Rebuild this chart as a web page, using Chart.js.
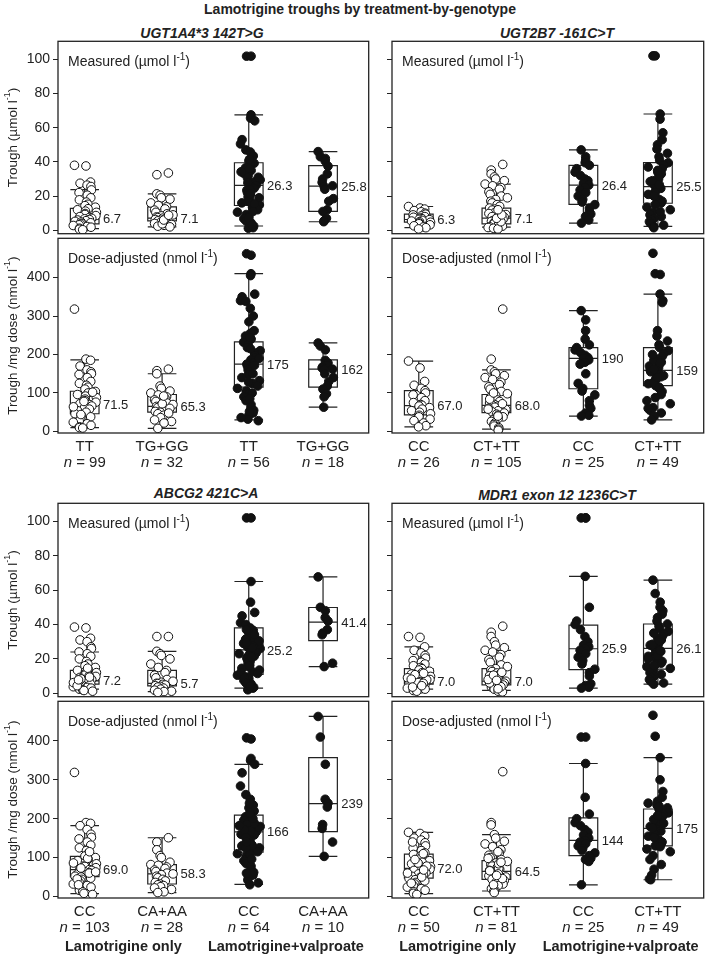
<!DOCTYPE html>
<html>
<head>
<meta charset="utf-8">
<script src="https://cdn.jsdelivr.net/npm/chart.js@4.4.1/dist/chart.umd.min.js"></script>
<style>
  body { margin: 0; background: #fff; width: 709px; height: 956px; position: relative; overflow: hidden;
         font-family: "Liberation Sans", Arial, sans-serif; color: #222; }
  canvas { position: absolute; }
  .t { position: absolute; white-space: nowrap; transform: translate(-50%, -50%); }
</style>
</head>
<body>
<div class="t" style="left:360px;top:9px;font-weight:bold;font-size:14px">Lamotrigine troughs by treatment-by-genotype</div>
<script>
const FONT = '"Liberation Sans", Arial, sans-serif';

const genes = ['UGT1A4*3 142T>G', 'UGT2B7 -161C>T', 'ABCG2 421C>A', 'MDR1 exon 12 1236C>T'];
const genotypes = [
  ['TT', 'TG+GG', 'TT', 'TG+GG'],
  ['CC', 'CT+TT', 'CC', 'CT+TT'],
  ['CC', 'CA+AA', 'CC', 'CA+AA'],
  ['CC', 'CT+TT', 'CC', 'CT+TT']
];
const groupN = [[99, 32, 56, 18], [26, 105, 25, 49], [103, 28, 64, 10], [50, 81, 25, 49]];
const treatments = ['Lamotrigine only', 'Lamotrigine+valproate'];
const measuredTicks = [0, 20, 40, 60, 80, 100];
const doseTicks = [0, 100, 200, 300, 400];

// box stats: [lower whisker, q1, median, q3, upper whisker]
const ugt1a4MeasBox = [[1, 3.8, 6.7, 12.8, 23.8], [2, 5.5, 7.1, 13.7, 21.3], [2.5, 14.5, 26.3, 39.5, 67.5], [5, 11, 25.8, 37.8, 46]];
const ugt1a4DoseBox = [[10, 46, 71.5, 104.5, 186], [8, 50, 65.3, 96, 150], [30, 115, 175, 233, 410], [63, 115, 162, 186, 230]];
const ugt2b7MeasBox = [[1.5, 4.8, 6.3, 9.5, 13.9], [1.9, 3.8, 7.1, 13, 27], [4.2, 15.2, 26.4, 38, 47], [2.3, 15.8, 25.5, 39.6, 68]];
const ugt2b7DoseBox = [[12, 43, 67.0, 106, 183], [6, 49, 68.0, 96, 160], [40, 111, 190, 218, 314], [30, 119, 159, 218, 357]];
const abcg2MeasBox = [[2.4, 5.3, 7.2, 13.3, 24], [1, 4.3, 5.7, 13.3, 24.4], [3, 10.9, 25.2, 38, 65], [15.5, 30.6, 41.4, 49.9, 67.7]];
const abcg2DoseBox = [[7, 51, 69.0, 103, 182], [10, 32, 58.3, 82, 151], [31, 114, 166, 209, 340], [103, 167, 239, 357, 463]];
const mdr1MeasBox = [[2.4, 5.3, 7.0, 14.3, 27], [1.7, 4.9, 7.0, 14.3, 25], [3, 13.7, 25.9, 39.6, 68], [5.3, 14, 26.1, 40.3, 65.8]];
const mdr1DoseBox = [[7, 47, 72.0, 109, 165], [14, 44, 64.5, 92, 159], [30, 105, 144, 202, 342], [43, 130, 175, 225, 357]];

// individual troughs
const ugt1a4Meas = [
  [38, 37.6, 28.2, 27.5, 26.4, 25.6, 23.6, 22, 20.5, 19, 17.8, 16.5, 15.2, 14.4, 13.5, 12.6, 12, 11.2, 10.5, 9.8, 9.2, 8.6, 8, 7.5, 7, 6.7, 6.3, 6, 5.6, 5.2, 4.8, 4.4, 4, 3.6, 3.2, 2.8, 2.2, 1.8, 1.2, 0.6, 0.3],
  [33.5, 32.5, 21.3, 20.5, 19, 18.2, 16, 14.5, 13.7, 12.5, 11.8, 10.5, 9.6, 9, 8.4, 7.8, 7.4, 7.1, 6.8, 6.3, 5.9, 5.5, 5.1, 4.6, 4, 3.4, 2.9, 2.4, 2, 3.8, 6, 8.8],
  [101.8, 101.8, 67.5, 65.6, 64, 53, 50.5, 47, 45.8, 43.5, 40.6, 39.2, 38, 36.5, 35, 33.4, 32, 30.6, 29.5, 28.3, 27.2, 26.3, 25.5, 24.6, 23.4, 22, 20.8, 19.5, 18.3, 17, 16, 14.8, 13.5, 12, 10.6, 9.2, 8, 6.8, 5.5, 4.4, 3.4, 2.5, 1.5, 1.2, 27.8, 31, 24, 21.2, 19, 15.5, 11, 7.2, 3, 36, 41.5, 34.2],
  [46, 43, 42, 40.5, 37.5, 33, 30, 28, 26, 25.6, 24, 18.5, 17, 12, 11, 7, 5.5, 5]
];
const ugt1a4Dose = [
  [318, 188, 185, 170, 160, 155, 150, 148, 140, 130, 125, 120, 115, 110, 104, 100, 96, 92, 88, 84, 80, 76, 72, 70, 66, 62, 58, 54, 50, 46, 42, 38, 34, 30, 27, 24, 20, 16, 12, 10, 9, 78, 102, 64, 44],
  [162, 158, 150, 118, 112, 105, 100, 95, 90, 86, 82, 78, 74, 70, 67, 65, 62, 58, 55, 52, 50, 46, 42, 36, 30, 26, 22, 8, 60, 72, 92, 48],
  [462, 458, 410, 405, 357, 350, 340, 338, 320, 300, 285, 262, 255, 248, 240, 232, 225, 218, 210, 204, 198, 192, 186, 180, 175, 170, 165, 160, 155, 148, 140, 132, 125, 118, 112, 105, 98, 90, 80, 70, 62, 55, 48, 40, 32, 28, 245, 215, 190, 172, 150, 128, 100, 85, 52, 36],
  [230, 222, 212, 185, 178, 172, 168, 165, 162, 160, 150, 140, 130, 118, 110, 98, 90, 63]
];
const ugt2b7Meas = [
  [13.9, 13, 12.4, 11.5, 10.8, 10, 9.4, 9, 8.4, 8, 7.6, 7.2, 6.8, 6.4, 6.2, 5.8, 5.4, 5, 4.7, 4.3, 3.8, 3.2, 2.6, 2, 1.5, 0.8],
  [38.5, 35.2, 33, 31.2, 30, 29, 27, 26, 25, 24, 22.5, 21, 20, 19, 18, 17, 16, 15, 14, 13, 12.4, 11.8, 11, 10.4, 9.8, 9.2, 8.6, 8, 7.6, 7.1, 6.8, 6.4, 6, 5.6, 5.2, 4.8, 4.4, 4, 3.6, 3.2, 2.8, 2.4, 2, 1.6, 1.2, 0.8, 5, 7, 9, 12],
  [47, 43, 41, 39.5, 38, 36, 34, 32, 30, 29, 27.5, 26.4, 25, 23.5, 22, 20, 18, 16.5, 15, 13, 11, 9.5, 8, 6, 4.2],
  [102, 102, 68, 65, 57, 53, 50, 47.5, 45, 43, 41, 39.5, 38, 36, 34, 33, 31.5, 30, 28.5, 27, 26, 25.5, 24.5, 23, 22, 21, 19.5, 18, 17, 16, 15, 13.5, 12, 10.5, 9, 8, 7, 6, 5, 4, 3, 2.3, 1.5, 29, 35, 20, 11, 26.8, 37]
];
const ugt2b7Dose = [
  [183, 165, 130, 120, 112, 106, 100, 95, 88, 80, 75, 70, 68, 66, 62, 58, 54, 50, 46, 42, 38, 32, 28, 22, 15, 12],
  [318, 188, 160, 155, 150, 145, 140, 135, 128, 122, 116, 110, 104, 98, 94, 90, 86, 82, 78, 74, 70, 68, 66, 63, 60, 57, 54, 51, 48, 45, 42, 38, 34, 30, 26, 22, 18, 14, 10, 6, 3, 72, 84, 58, 100, 40],
  [314, 290, 262, 240, 225, 218, 212, 205, 198, 192, 190, 186, 180, 175, 150, 125, 112, 105, 95, 80, 68, 60, 48, 42, 40],
  [463, 410, 408, 357, 340, 335, 262, 248, 235, 225, 218, 210, 202, 195, 188, 180, 172, 165, 160, 157, 152, 148, 142, 136, 130, 124, 119, 112, 104, 96, 88, 80, 72, 62, 55, 48, 40, 30, 170, 155, 145, 128, 185, 200, 140, 162, 178, 115, 60]
];
const abcg2Meas = [
  [38.5, 38, 32, 31, 30, 27, 26, 24, 23, 21.5, 20, 18.5, 17, 16, 15, 14, 13.3, 12.6, 12, 11.2, 10.5, 9.8, 9.2, 8.6, 8, 7.5, 7.2, 6.8, 6.4, 6, 5.6, 5.3, 5, 4.6, 4.2, 3.8, 3.4, 3, 2.6, 2.4, 2, 1.6, 1.2, 6.2, 8.4, 10, 14.6, 4.4, 7.8, 9.4],
  [33, 33, 24.4, 23, 22, 20, 17, 15, 13.3, 12, 10.5, 9, 8, 7, 6.4, 5.8, 5.6, 5.2, 4.8, 4.4, 4, 3.6, 3, 2.4, 1.8, 1.2, 1, 0.5],
  [102, 102, 65, 53, 47, 45, 41, 40, 38, 36.5, 35, 33.5, 32, 31, 30, 29, 28, 27, 26, 25.2, 24.5, 23.5, 22.5, 21.5, 20.5, 19.5, 18.5, 17.5, 16.5, 15.5, 14.5, 13.5, 12.5, 11.5, 10.5, 9.5, 8.5, 7.5, 6.5, 5.5, 4.5, 3.5, 3, 2.5, 2, 28.5, 25.8, 24, 30.5, 34, 27.5, 22, 26.5, 19, 16, 12, 9, 6, 4, 21, 37, 31.5, 23, 29.5],
  [67.7, 50, 48, 44, 42, 37, 35, 34, 17.5, 15.5]
];
const abcg2Dose = [
  [319, 190, 188, 182, 172, 160, 152, 148, 140, 132, 125, 118, 110, 104, 100, 96, 92, 88, 84, 80, 77, 74, 71, 69, 67, 64, 61, 58, 55, 52, 50, 47, 44, 40, 36, 32, 28, 24, 20, 16, 12, 8, 5, 86, 73, 60, 98, 45, 30, 115, 63],
  [151, 140, 120, 105, 100, 88, 82, 80, 76, 72, 68, 64, 60, 58, 56, 52, 48, 44, 40, 36, 32, 30, 28, 25, 22, 18, 12, 10],
  [408, 405, 355, 350, 340, 318, 284, 262, 250, 235, 228, 220, 212, 205, 200, 195, 190, 185, 180, 175, 170, 166, 162, 158, 154, 150, 146, 142, 138, 134, 130, 125, 120, 115, 110, 104, 98, 92, 85, 78, 70, 62, 55, 48, 42, 35, 30, 168, 178, 188, 200, 144, 132, 215, 240, 160, 172, 125, 108, 96, 60, 152, 182, 140],
  [463, 410, 340, 250, 240, 230, 185, 175, 140, 103]
];
const mdr1Meas = [
  [33, 32.5, 27, 25, 23.5, 22, 20.5, 19, 18, 17, 16, 15, 14.3, 13.5, 12.8, 12, 11.2, 10.5, 9.8, 9.2, 8.6, 8, 7.6, 7.2, 7, 6.8, 6.4, 6, 5.6, 5.3, 5, 4.6, 4.2, 3.8, 3.4, 3, 2.6, 2.4, 2, 1.6, 1.2, 6.2, 7.8, 9, 10.8, 5.8, 4.4, 8.2, 3.6, 11.6],
  [39, 35.5, 33, 30, 28, 26.5, 25, 24, 22.5, 21, 19.5, 18, 16.5, 15.5, 14.3, 13.5, 12.6, 11.8, 11, 10.2, 9.6, 9, 8.4, 7.8, 7.3, 7, 6.7, 6.3, 5.9, 5.5, 5.1, 4.8, 4.4, 4, 3.6, 3.2, 2.8, 2.4, 2, 1.7, 1.2, 0.8, 6, 8, 10.5, 5.3, 3.8, 7.5, 12.2, 2.6],
  [102, 102, 102, 68, 50, 42, 40, 37, 33, 30, 28, 27, 25.9, 25, 23, 21, 19, 17, 14, 12, 10, 5.5, 4.5, 3.5, 3],
  [65.8, 58, 53, 50, 48, 46, 44, 42, 40.3, 39, 37.5, 36, 34.5, 33, 32, 31, 30, 29, 28, 27, 26.1, 25.2, 24.3, 23.4, 22.5, 21.5, 20.5, 19.5, 18.5, 17.5, 16.5, 15.5, 14.5, 13, 12, 11, 10, 9, 8, 7, 6, 5.3, 35, 28.5, 22, 16, 24.8, 30.5, 20]
];
const mdr1Dose = [
  [165, 162, 155, 150, 145, 138, 130, 124, 118, 112, 108, 104, 100, 96, 92, 88, 84, 80, 77, 74, 72, 70, 67, 64, 61, 58, 55, 52, 49, 46, 43, 40, 36, 32, 28, 24, 20, 16, 12, 8, 5, 86, 78, 60, 95, 110, 50, 34, 140, 68],
  [321, 190, 184, 159, 150, 142, 135, 128, 120, 112, 106, 100, 95, 90, 86, 82, 78, 74, 70, 67, 64.5, 62, 59, 56, 53, 50, 47, 44, 41, 38, 35, 32, 28, 24, 20, 16, 14, 10, 72, 84, 58, 46, 66, 98, 30, 115, 88, 54],
  [410, 410, 342, 255, 212, 200, 190, 182, 172, 165, 158, 150, 144, 140, 136, 130, 124, 118, 112, 105, 102, 98, 95, 90, 30],
  [466, 412, 357, 300, 270, 255, 245, 235, 228, 225, 220, 215, 210, 205, 200, 195, 190, 185, 180, 178, 175, 172, 168, 165, 160, 155, 150, 145, 140, 135, 130, 122, 115, 105, 95, 82, 70, 55, 45, 43, 188, 198, 162, 176, 208, 152, 128, 232, 240]
];

const measPts = [ugt1a4Meas, ugt2b7Meas, abcg2Meas, mdr1Meas];
const dosePts = [ugt1a4Dose, ugt2b7Dose, abcg2Dose, mdr1Dose];
const measBoxes = [ugt1a4MeasBox, ugt2b7MeasBox, abcg2MeasBox, mdr1MeasBox];
const doseBoxes = [ugt1a4DoseBox, ugt2b7DoseBox, abcg2DoseBox, mdr1DoseBox];

// layout
const positions = [1, 2, 3.12, 4.08];
const xRange = [0.655, 4.67];
const boxHalf = 0.185;
// sideways spread of the points, a fixed hash of the point index
const hash = n => { const s = Math.sin(n * 12.9898 + 78.233) * 43758.5453; return s - Math.floor(s); };
const jitter = j => ((hash(j) + hash(j + 101)) / 2 - 0.5) * 0.34;

function fmt(v) { return v >= 100 ? v.toFixed(0) : v.toFixed(1); }

function drawRich(ctx, parts, x, y, size, align) {
  const fonts = parts.map(p => {
    const s = p[1] === 'sup' ? Math.round(size * 0.7) : size;
    const st = p[1] === 'italic' ? 'italic ' : p[1] === 'bold' ? 'bold ' : '';
    return st + s + 'px ' + FONT;
  });
  const widths = parts.map((p, k) => { ctx.font = fonts[k]; return ctx.measureText(p[0]).width; });
  const total = widths.reduce((a, b) => a + b, 0);
  let cx = align === 'center' ? x - total / 2 : x;
  ctx.textAlign = 'left';
  ctx.textBaseline = 'middle';
  parts.forEach((p, k) => {
    ctx.font = fonts[k];
    ctx.fillText(p[0], cx, p[1] === 'sup' ? y - size * 0.38 : y);
    cx += widths[k];
  });
}

function makePanel(gi, kind, x0, x1, y0, y1, left, groupRow) {
  const isMeas = kind === 'm';
  const showX = !isMeas;
  const axisW = left ? 58 : 12;
  const xH = groupRow ? 60 : 40;
  const W = x1 - x0 + axisW + 2;
  const H = y1 - y0 + 4 + (showX ? xH : 2);
  const canvas = document.createElement('canvas');
  canvas.width = W; canvas.height = H;
  canvas.style.left = (x0 - axisW) + 'px';
  canvas.style.top = (y0 - 4) + 'px';
  canvas.style.width = W + 'px';
  canvas.style.height = H + 'px';
  document.body.appendChild(canvas);

  const pts = isMeas ? measPts[gi] : dosePts[gi];
  const boxes = isMeas ? measBoxes[gi] : doseBoxes[gi];
  const yTicks = isMeas ? measuredTicks : doseTicks;

  const boxPlugin = {
    id: 'boxes',
    beforeDatasetsDraw(chart) {
      const { ctx, scales: { x, y } } = chart;
      ctx.save();
      ctx.strokeStyle = '#222';
      ctx.lineWidth = 1.2;
      boxes.forEach((b, i) => {
        const cx = x.getPixelForValue(positions[i]);
        const hw = x.getPixelForValue(positions[i] + boxHalf) - cx;
        const [lo, q1, md, q3, hi] = b.map(v => y.getPixelForValue(v));
        ctx.beginPath();
        ctx.moveTo(cx, lo); ctx.lineTo(cx, q1);
        ctx.moveTo(cx, q3); ctx.lineTo(cx, hi);
        ctx.moveTo(cx - hw, lo); ctx.lineTo(cx + hw, lo);
        ctx.moveTo(cx - hw, hi); ctx.lineTo(cx + hw, hi);
        ctx.moveTo(cx - hw, md); ctx.lineTo(cx + hw, md);
        ctx.rect(cx - hw, q3, 2 * hw, q1 - q3);
        ctx.stroke();
      });
      ctx.restore();
    },
    afterDatasetsDraw(chart) {
      const { ctx, chartArea: a, scales: { x, y } } = chart;
      ctx.save();
      ctx.strokeStyle = '#222';
      ctx.lineWidth = 1.3;
      ctx.strokeRect(a.left, a.top, a.right - a.left, a.bottom - a.top);
      ctx.fillStyle = '#222';
      // median labels
      boxes.forEach((b, i) => {
        const cx = x.getPixelForValue(positions[i]);
        const hw = x.getPixelForValue(positions[i] + boxHalf) - cx;
        ctx.font = '13px ' + FONT;
        ctx.textAlign = 'left';
        ctx.textBaseline = 'middle';
        ctx.fillText(fmt(b[2]), cx + hw + 4, y.getPixelForValue(b[2]) + 1);
      });
      // panel label
      const unit = isMeas ? '\u00b5mol l' : 'nmol l';
      drawRich(ctx, [[(isMeas ? 'Measured (' : 'Dose-adjusted (') + unit, ''], ['-1', 'sup'], [')', '']],
        a.left + 10, a.top + 21, 14, 'left');
      // y title
      if (left) {
        ctx.save();
        ctx.translate(a.left - 45, (a.top + a.bottom) / 2);
        ctx.rotate(-Math.PI / 2);
        drawRich(ctx, [[(isMeas ? 'Trough (' : 'Trough /mg dose (') + unit, ''], ['-1', 'sup'], [')', '']],
          0, 0, 13.5, 'center');
        ctx.restore();
      }
      // n line and treatment labels
      if (showX) {
        positions.forEach((p, i) => {
          drawRich(ctx, [['n', 'italic'], [' = ' + groupN[gi][i], '']],
            x.getPixelForValue(p), a.bottom + 30, 15, 'center');
        });
        if (groupRow) {
          treatments.forEach((t, k) => {
            const mid = (x.getPixelForValue(positions[2 * k]) + x.getPixelForValue(positions[2 * k + 1])) / 2;
            drawRich(ctx, [[t, 'bold']], mid, a.bottom + 49, 14.5, 'center');
          });
        }
      }
      ctx.restore();
    }
  };

  new Chart(canvas, {
    type: 'scatter',
    data: {
      datasets: pts.map((vals, i) => ({
        data: vals.map((v, j) => ({ x: positions[i] + jitter(j + 37 * i), y: v })),
        pointRadius: 4.3,
        pointBackgroundColor: i < 2 ? '#fff' : '#111',
        pointBorderColor: '#111',
        pointBorderWidth: 1,
        showLine: false
      }))
    },
    options: {
      responsive: false,
      animation: false,
      events: [],
      layout: { padding: { left: 0, top: 4, right: 2, bottom: showX ? 0 : 2 } },
      plugins: { legend: { display: false }, tooltip: { enabled: false } },
      scales: {
        x: {
          type: 'linear',
          min: xRange[0],
          max: xRange[1],
          display: showX,
          afterBuildTicks: s => { s.ticks = positions.map(v => ({ value: v })); },
          afterFit: s => { s.height = showX ? xH : 0; s.paddingLeft = 0; s.paddingRight = 0; },
          grid: { display: false, drawTicks: false },
          border: { display: false },
          ticks: {
            autoSkip: false, maxRotation: 0, padding: 5, color: '#222',
            font: { size: 15, family: FONT },
            callback: (v, i) => genotypes[gi][i]
          }
        },
        y: {
          type: 'linear',
          min: isMeas ? -2 : -4,
          max: isMeas ? 110.5 : 502,
          afterBuildTicks: s => { s.ticks = yTicks.map(v => ({ value: v })); },
          afterFit: s => { s.width = axisW; s.paddingTop = 0; s.paddingBottom = 0; },
          grid: { drawOnChartArea: false, drawTicks: true, tickLength: 5, color: '#222', lineWidth: 1 },
          border: { display: false },
          ticks: { display: left, padding: 3, color: '#222', font: { size: 14, family: FONT } }
        }
      }
    },
    plugins: [boxPlugin]
  });
}

// gene titles
const titlePos = [[202, 33], [557, 33], [206, 493], [557, 495]];
genes.forEach((g, gi) => {
  const d = document.createElement('div');
  d.className = 't';
  d.style.left = titlePos[gi][0] + 'px';
  d.style.top = titlePos[gi][1] + 'px';
  d.style.fontWeight = 'bold';
  d.style.fontStyle = 'italic';
  d.style.fontSize = '14px';
  d.textContent = g;
  document.body.appendChild(d);
});

// panels: [x0, x1] columns, [measured top, divider, dose bottom] rows
const cols = [[58, 372], [392, 707]];
const rows = [[40, 237, 433], [502, 700, 898]];
genes.forEach((g, gi) => {
  const c = cols[gi % 2];
  const r = rows[Math.floor(gi / 2)];
  const left = gi % 2 === 0;
  const groupRow = gi >= 2;
  makePanel(gi, 'm', c[0], c[1], r[0], r[1], left, groupRow);
  makePanel(gi, 'd', c[0], c[1], r[1], r[2], left, groupRow);
});
</script>
</body>
</html>
